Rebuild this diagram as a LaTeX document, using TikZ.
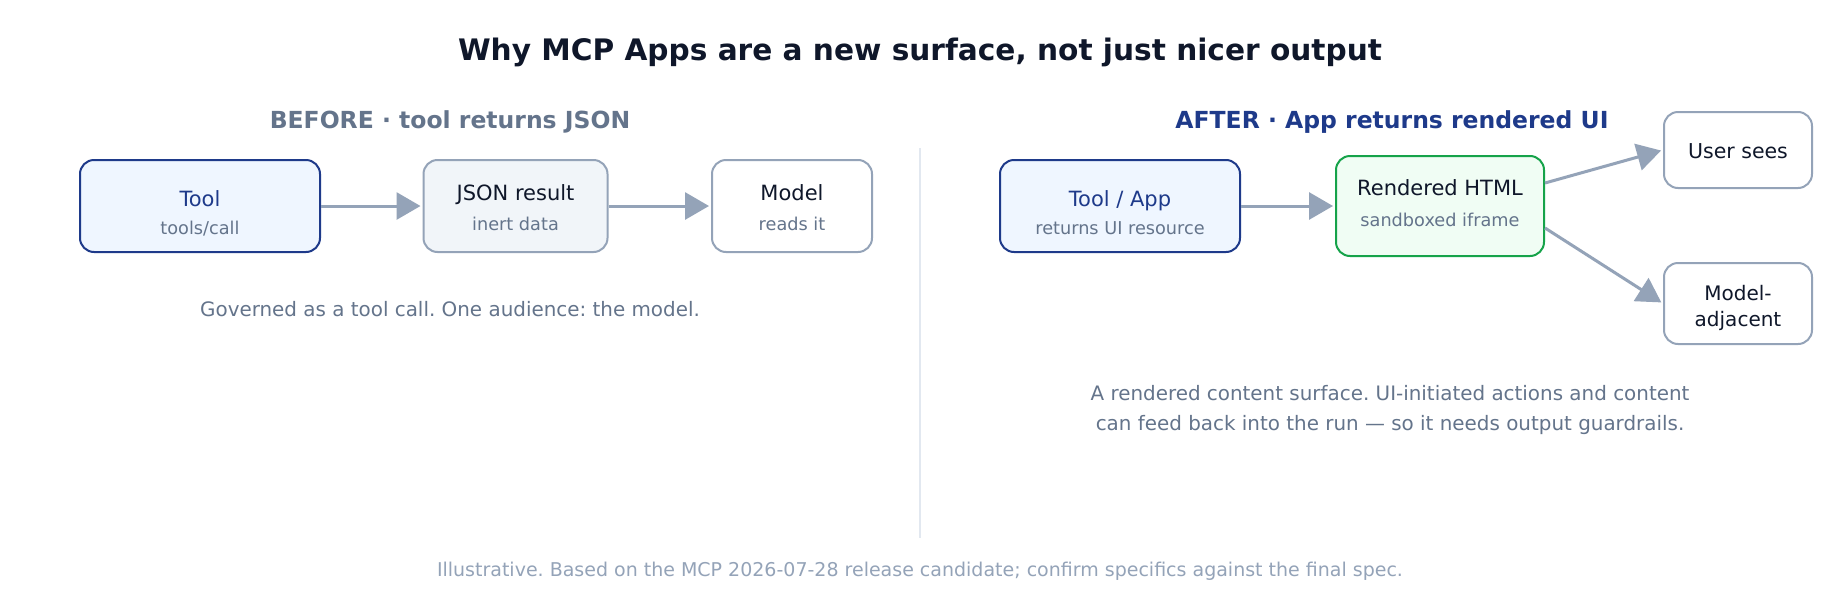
\documentclass[tikz,border=0pt]{standalone}
\usepackage{fontspec}
\setmainfont{DejaVu Sans}
\usetikzlibrary{arrows.meta}
\frenchspacing
\definecolor{ink}{HTML}{0F172A}
\definecolor{slate}{HTML}{64748B}
\definecolor{navy}{HTML}{1E3A8A}
\definecolor{edge}{HTML}{94A3B8}
\definecolor{bluefill}{HTML}{EFF6FF}
\definecolor{grayfill}{HTML}{F1F5F9}
\definecolor{greenfill}{HTML}{F0FDF4}
\definecolor{greenedge}{HTML}{16A34A}
\definecolor{divider}{HTML}{E2E8F0}
\tikzset{
  box/.style={draw, rounded corners=14pt, line width=2pt, inner sep=0pt},
  toolbox/.style={box, draw=navy, fill=bluefill},
  jsonbox/.style={box, draw=edge, fill=grayfill},
  plainbox/.style={box, draw=edge, fill=white},
  htmlbox/.style={box, draw=greenedge, fill=greenfill},
  arr/.style={draw=edge, line width=3pt, -{Triangle[length=24pt,width=27pt]}, fill=edge, shorten >=2pt},
  boxmain/.style={anchor=base, inner sep=0pt, font=\fontsize{21}{25}\selectfont, text=ink},
  boxsub/.style={anchor=base, inner sep=0pt, font=\fontsize{17.7}{21}\selectfont, text=slate},
  caption/.style={anchor=base, inner sep=0pt, font=\fontsize{19.9}{24}\selectfont, text=slate},
  header/.style={anchor=base, inner sep=0pt, font=\bfseries\fontsize{23.5}{28}\selectfont},
}
\begin{document}
\begin{tikzpicture}[x=1pt,y=-1pt]
\useasboundingbox (0,0) rectangle (1840,600);
\fill[white] (0,0) rectangle (1840,600);

% title
\node[anchor=base, inner sep=0pt, font=\bfseries\fontsize{29.6}{36}\selectfont, text=ink] (title) at (920,60) {Why MCP Apps are a new surface, not just nicer output};

% headers
\node[header, text=slate] (hbefore) at (450,128) {BEFORE · tool returns JSON};
\node[header, text=navy] (hafter) at (1392,128) {AFTER · App returns rendered UI};

% divider
\coordinate (dtop) at (920,148);
\coordinate (dbot) at (920,538);
\draw[divider, line width=1.5pt] (dtop) -- (dbot);

% BEFORE boxes
\node[toolbox, minimum width=240pt, minimum height=92pt] (tool) at (200,206) {};
\node[boxmain, text=navy] (tooltxt) at (200,206) {Tool};
\node[boxsub] (toolsub) at (200,234) {tools/call};

\node[jsonbox, minimum width=184pt, minimum height=92pt] (json) at (515.5,206) {};
\node[boxmain] (jsontxt) at (515.5,200) {JSON result};
\node[boxsub] (jsonsub) at (515.5,230) {inert data};

\node[plainbox, minimum width=160pt, minimum height=92pt] (model) at (792,206) {};
\node[boxmain] (modeltxt) at (792,200) {Model};
\node[boxsub] (modelsub) at (792,230) {reads it};

\draw[arr] (tool) -- (json);
\draw[arr] (json) -- (model);

\node[caption] (capl) at (450,316) {Governed as a tool call. One audience: the model.};

% AFTER boxes
\node[toolbox, minimum width=240pt, minimum height=92pt] (app) at (1120,206) {};
\node[boxmain, text=navy] (apptxt) at (1120,206) {Tool / App};
\node[boxsub] (appsub) at (1120,234) {returns UI resource};

\node[htmlbox, minimum width=208pt, minimum height=100pt] (rend) at (1440,206) {};
\node[boxmain] (rendtxt) at (1440,195.7) {Rendered HTML};
\node[boxsub] (rendsub) at (1440,226) {sandboxed iframe};

\node[plainbox, minimum width=148pt, minimum height=76pt] (user) at (1738,150) {};
\node[boxmain, font=\fontsize{20.5}{25}\selectfont] (usertxt) at (1738,158.3) {User sees};

\node[plainbox, minimum width=148pt, minimum height=81pt] (madj) at (1738,303.5) {};
\node[boxmain, font=\fontsize{20}{25}\selectfont] (madjtxt1) at (1738,300.7) {Model-};
\node[boxmain, font=\fontsize{20}{25}\selectfont] (madjtxt2) at (1738,326) {adjacent};

\draw[arr] (app) -- (rend);
\draw[arr] ([yshift=23pt]rend.east) -- (user.west);
\draw[arr] ([yshift=-22pt]rend.east) -- (madj.west);

\node[caption] (capr1) at (1390,400) {A rendered content surface. UI-initiated actions and content};
\node[caption] (capr2) at (1390,430) {can feed back into the run — so it needs output guardrails.};

% footer
\node[anchor=base, inner sep=0pt, font=\fontsize{19}{22}\selectfont, text=edge] (foot) at (920,576) {Illustrative. Based on the MCP 2026-07-28 release candidate; confirm specifics against the final spec.};
\end{tikzpicture}
\end{document}
